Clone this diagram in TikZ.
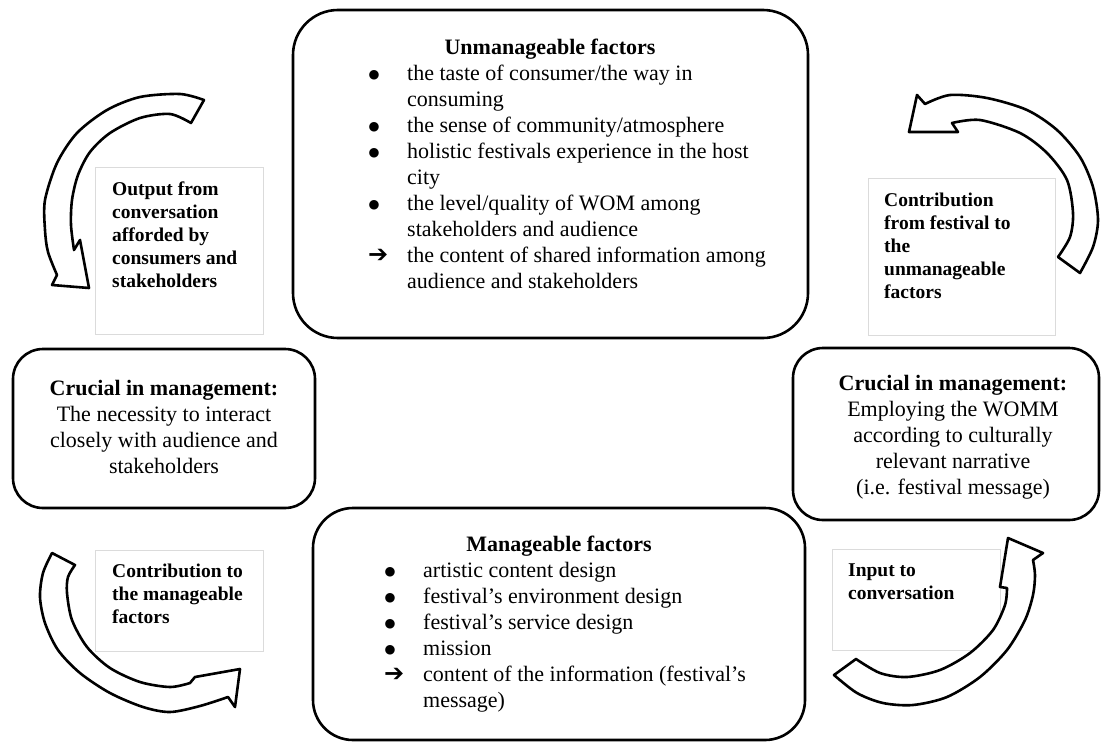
\documentclass[tikz,border=0pt]{standalone}
\usepackage{fontspec}
\setmainfont{Liberation Serif}
\newfontfamily\dejavu{DejaVu Sans}
\newcommand\bul{\makebox[39pt][l]{\hspace*{0.5pt}\raisebox{1.8pt}{\dejavu\fontsize{12.5}{12.5}\selectfont ●}}}
\newcommand\arw{\makebox[39pt][l]{{\dejavu\bfseries\fontsize{24}{24}\selectfont ➔}}}
\newcommand\ind{\hspace*{39pt}}
\begin{document}
\begin{tikzpicture}[x=1pt,y=-1pt,
  mainbox/.style={draw=black, line width=2.6pt, fill=white, inner sep=0pt, outer sep=0pt, anchor=north west},
  labbox/.style={draw=black!14, line width=0.8pt, fill=white, inner sep=0pt, outer sep=0pt, anchor=north west},
  listtxt/.style={inner sep=0pt, anchor=base west, font=\fontsize{22}{26}\selectfont},
  titletxt/.style={inner sep=0pt, anchor=base, font=\fontsize{22}{26}\selectfont\bfseries},
  midtxt/.style={inner sep=0pt, anchor=base, font=\fontsize{22}{26}\selectfont},
  labtxt/.style={inner sep=0pt, anchor=base west, font=\fontsize{19.5}{23}\selectfont\bfseries},
  curvearrow/.style={draw=black, line width=2.6pt, fill=white, line join=round}
]
\useasboundingbox (0,0) rectangle (1102,744);
\fill[white] (0,0) rectangle (1102,744);

% main boxes
\node[mainbox, rounded corners=45pt, minimum width=515pt, minimum height=328pt] (unman) at (293,10) {};
\node[mainbox, rounded corners=40pt, minimum width=492pt, minimum height=232pt] (man) at (313,508) {};
\node[mainbox, rounded corners=30pt, minimum width=302pt, minimum height=159pt] (cruL) at (13,349) {};
\node[mainbox, rounded corners=30pt, minimum width=306pt, minimum height=172pt] (cruR) at (793,348) {};

% label boxes
\node[labbox, minimum width=168pt, minimum height=167pt] (lbTL) at (95,167) {};
\node[labbox, minimum width=187pt, minimum height=157pt] (lbTR) at (868,178) {};
\node[labbox, minimum width=168pt, minimum height=101pt] (lbBL) at (95,550) {};
\node[labbox, minimum width=168pt, minimum height=101pt] (lbBR) at (832,549) {};

% curved block arrows
\draw[curvearrow] plot[smooth] coordinates {(204,100) (180,94) (140,97) (107,110) (77,133) (57,163) (45,200) (45,230) (48,252) (57,275)}
  -- (52,285) -- (89,288) -- (80,240)
  -- plot[smooth] coordinates {(74,250) (71,225) (72,200) (78,175) (90,152) (110,133) (140,118) (170,114) (191,123)} -- cycle;

\draw[curvearrow] plot[smooth] coordinates {(1080,273) (1093,247) (1098,220) (1093,187) (1080,157) (1057,130) (1027,110) (987,98) (950,95) (925,104)}
  -- (917,95) -- (909,132) -- (958,132)
  -- plot[smooth] coordinates {(952,123) (980,120) (1020,133) (1047,153) (1067,180) (1073,213) (1070,237) (1058,257)} -- cycle;

\draw[curvearrow] plot[smooth] coordinates {(52,553) (43,573) (40,597) (45,623) (58,650) (80,673) (110,693) (143,707) (170,712) (200,706) (228,697)}
  -- (235,707) -- (240,669) -- (195,677)
  -- plot[smooth] coordinates {(190,683) (170,687) (140,682) (110,668) (87,647) (72,620) (67,593) (68,577) (75,565)} -- cycle;

\draw[curvearrow] plot[smooth] coordinates {(834,675) (857,693) (883,703) (913,705) (947,697) (980,677) (1007,650) (1025,620) (1033,595) (1035,575) (1033,560)}
  -- (1043,553) -- (1008,538) -- (1000,587)
  -- plot[smooth] coordinates {(1007,588) (1005,605) (993,630) (970,653) (940,670) (907,677) (880,673) (856,659)} -- cycle;

% texts in main boxes
\node[titletxt] (unmanT) at (550,54) {Unmanageable factors};
\node[listtxt] (unmanL) at (368,80) {\begin{tabular}[t]{@{}l@{}}
\bul the taste of consumer/the way in\\
\ind consuming\\
\bul the sense of community/atmosphere\\
\bul holistic festivals experience in the host\\
\ind city\\
\bul the level/quality of WOM among\\
\ind stakeholders and audience\\
\arw the content of shared information among\\
\ind audience and stakeholders
\end{tabular}};

\node[titletxt] (manT) at (559,551) {Manageable factors};
\node[listtxt] (manL) at (384,577) {\begin{tabular}[t]{@{}l@{}}
\bul artistic content design\\
\bul festival’s environment design\\
\bul festival’s service design\\
\bul mission\\
\arw content of the information (festival’s\\
\ind message)
\end{tabular}};

\node[midtxt] (cruLT) at (164,395) {\begin{tabular}[t]{@{}c@{}}
\textbf{Crucial in management:}\\
The necessity to interact\\
closely with audience and\\
stakeholders
\end{tabular}};

\node[midtxt] (cruRT) at (953,390) {\begin{tabular}[t]{@{}c@{}}
\textbf{Crucial in management:}\\
Employing the WOMM\\
according to culturally\\
relevant narrative\\
(i.e. festival message)
\end{tabular}};

% label texts
\node[labtxt] (lbTLt) at (112,195) {\begin{tabular}[t]{@{}l@{}}Output from\\conversation\\afforded by\\consumers and\\stakeholders\end{tabular}};
\node[labtxt] (lbTRt) at (884,206) {\begin{tabular}[t]{@{}l@{}}Contribution\\from festival to\\the\\unmanageable\\factors\end{tabular}};
\node[labtxt] (lbBLt) at (112,577) {\begin{tabular}[t]{@{}l@{}}Contribution to\\the manageable\\factors\end{tabular}};
\node[labtxt] (lbBRt) at (848,576) {\begin{tabular}[t]{@{}l@{}}Input to\\conversation\end{tabular}};
\end{tikzpicture}
\end{document}
